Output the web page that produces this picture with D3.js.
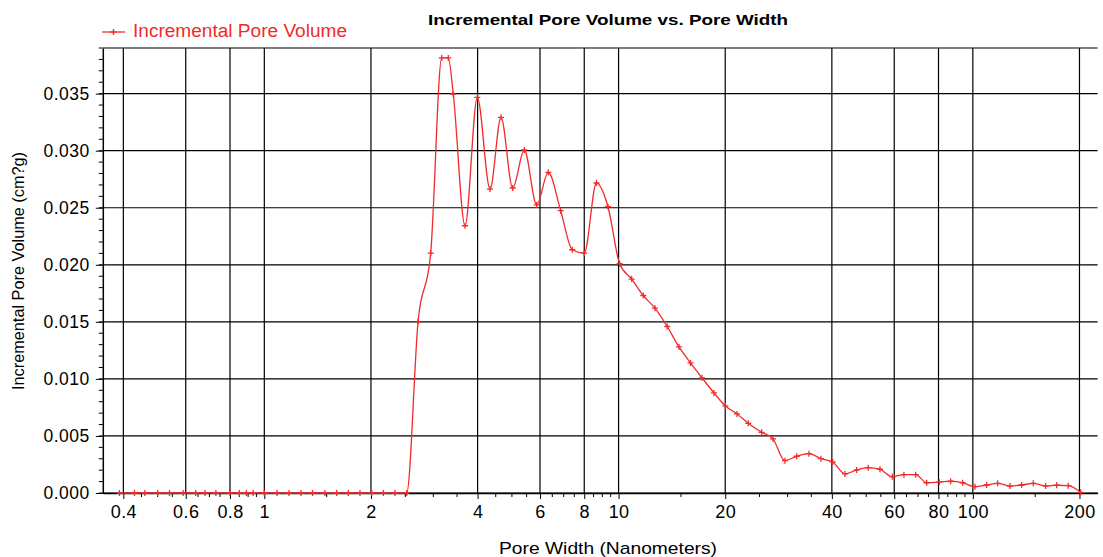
<!DOCTYPE html>
<html>
<head>
<meta charset="utf-8">
<script src="https://cdn.jsdelivr.net/npm/d3@7"></script>
<style>
body { margin:0; background:#fff; }
text { font-family: "Liberation Sans", Arial, sans-serif; }
</style>
</head>
<body>
<svg id="canvas" width="1103" height="557"></svg>
<script>
// pore width (nm) and incremental pore volume (cm3/g)
var poreWidth = [0.39,0.43,0.46,0.50,0.54,0.59,0.64,0.68,0.73,0.80,0.85,0.89,0.93,1.00,
  1.086,1.174,1.269,1.368,1.483,1.601,1.726,1.862,2.010,2.168,2.338,2.523,
  2.716,2.949,3.168,3.306,3.415,3.686,3.993,4.336,4.658,5.025,5.419,5.873,6.333,6.864,
  7.402,8.002,8.663,9.335,10.07,10.89,11.74,12.67,13.72,14.81,15.96,17.20,18.59,20.03,
  21.59,23.23,25.34,27.28,29.49,31.82,34.46,37.26,40.22,43.55,46.99,50.67,54.68,59.24,
  63.90,68.97,74.06,80.40,86.57,93.58,101.4,109.4,117.5,127.3,137.3,148.1,160.5,172.4,
  185.9,201.5]
var poreVolume = [0,0,0,0,0,0,0,0,0,0,0,0,0,0,
  0,0,0,0,0,0,0,0,0,0,0,0,
  0.0150,0.02103,0.03813,0.03813,0.03497,0.02342,0.03468,0.02664,0.03292,0.02673,0.03006,0.02526,0.0281,0.02474,
  0.02132,0.02103,0.02717,0.02509,0.02009,0.01875,0.01731,0.0162,0.01459,0.0128,0.0114,0.01009,0.00877,0.00763,
  0.00693,0.00611,0.00532,0.00474,0.00283,0.00322,0.00345,0.00301,0.00272,0.00167,0.00202,0.00222,0.00208,0.00143,
  0.00161,0.00161,0.00090,0.00096,0.00103,0.00090,0.00055,0.00070,0.00085,0.00061,0.00070,0.00085,0.00061,0.00068,
  0.00064,0.00006]

var xMajorTicks = [0.4,0.6,0.8,1,2,4,6,8,10,20,40,60,80,100,200]
var xMinorTicks = [0.45,0.5,0.55,0.65,0.7,0.75,0.85,0.9,0.95,1.5,2.5,3,3.5,4.5,5,5.5,6.5,7,7.5,8.5,9,9.5,
  15,25,30,35,45,50,55,65,70,75,85,90,95,150]
var yMajorTicks = [0,0.005,0.010,0.015,0.020,0.025,0.030,0.035]
var yMinorTicks = d3.range(0, 0.0395, 0.001)

var canvas = d3.select("#canvas")
var red = "#f22a2a"

var plotLeft = 102.8, plotRight = 1097.6, plotTop = 48, plotBottom = 493

var x = d3.scaleLog().domain([0.35, 225]).range([plotLeft, plotRight])
var y = d3.scaleLinear().domain([0, 0.039]).range([plotBottom, plotTop])

// grid
canvas.append("g").selectAll("line").data(xMajorTicks).enter().append("line")
    .attr("x1", function(d){ return x(d) }).attr("x2", function(d){ return x(d) })
    .attr("y1", plotTop).attr("y2", plotBottom)
    .style("stroke", "#000").style("stroke-width", 1.2)
canvas.append("g").selectAll("line").data(yMajorTicks).enter().append("line")
    .attr("x1", plotLeft).attr("x2", plotRight)
    .attr("y1", function(d){ return y(d) }).attr("y2", function(d){ return y(d) })
    .style("stroke", "#000").style("stroke-width", 1.2)
// top frame
canvas.append("line").attr("x1", plotLeft).attr("x2", plotRight).attr("y1", plotTop).attr("y2", plotTop)
    .style("stroke", "#000").style("stroke-width", 1.2)

// x axis
var xAxis = d3.axisBottom(x).tickValues(xMajorTicks).tickSize(6).tickSizeOuter(0)
    .tickFormat(function(d){ return d3.format("~g")(d) })
var gx = canvas.append("g").attr("transform", "translate(0," + plotBottom + ")").call(xAxis)
gx.selectAll("text").style("font-size", "18px").style("letter-spacing", "0.4px")
    .attr("y", 25).attr("dy", 0).style("fill", "#000")
gx.append("g").selectAll("line").data(xMinorTicks).enter().append("line")
    .attr("x1", function(d){ return x(d) }).attr("x2", function(d){ return x(d) })
    .attr("y1", 0).attr("y2", 4).style("stroke", "#000")
gx.select(".domain").style("stroke-width", 1.5)

// y axis
var yAxis = d3.axisLeft(y).tickValues(yMajorTicks).tickSize(7).tickPadding(6).tickSizeOuter(0)
    .tickFormat(d3.format(".3f"))
var gy = canvas.append("g").attr("transform", "translate(" + plotLeft + ",0)").call(yAxis)
gy.selectAll("text").style("font-size", "17.5px").style("letter-spacing", "0.5px").style("fill", "#000")
gy.append("g").selectAll("line").data(yMinorTicks).enter().append("line")
    .attr("x1", 0).attr("x2", -4)
    .attr("y1", function(d){ return y(d) }).attr("y2", function(d){ return y(d) })
    .style("stroke", "#000")
gy.select(".domain").style("stroke-width", 1.5)

// series line
var points = poreWidth.map(function(d, i){ return [d, poreVolume[i]] })
var line = d3.line().x(function(d){ return x(d[0]) }).y(function(d){ return y(d[1]) })
    .curve(d3.curveMonotoneX)
canvas.append("path").attr("d", line(points))
    .style("fill", "none").style("stroke", red).style("stroke-width", 1.3)

// plus markers
var plus = "M-3,0h6M0,-3v6"
canvas.append("g").selectAll("path").data(points).enter().append("path")
    .attr("transform", function(d){ return "translate(" + x(d[0]) + "," + y(d[1]) + ")" })
    .attr("d", plus).style("stroke", red).style("stroke-width", 1.3)

// legend
canvas.append("line").attr("x1", 102).attr("x2", 125).attr("y1", 32).attr("y2", 32)
    .style("stroke", red).style("stroke-width", 1.3)
canvas.append("path").attr("transform", "translate(113.5,32)").attr("d", plus)
    .style("stroke", red).style("stroke-width", 1.3)
canvas.append("text").attr("x", 133).attr("y", 37).text("Incremental Pore Volume")
    .attr("textLength", 214).attr("lengthAdjust", "spacingAndGlyphs")
    .style("font-size", "18px").style("fill", red)

// title and axis labels
canvas.append("text").attr("x", 608).attr("y", 25).attr("text-anchor", "middle")
    .text("Incremental Pore Volume vs. Pore Width")
    .attr("textLength", 360).attr("lengthAdjust", "spacingAndGlyphs")
    .style("font-size", "15px").style("font-weight", "bold")
canvas.append("text").attr("x", 608).attr("y", 554).attr("text-anchor", "middle")
    .text("Pore Width (Nanometers)")
    .attr("textLength", 218).attr("lengthAdjust", "spacingAndGlyphs")
    .style("font-size", "17px")
canvas.append("text").attr("transform", "translate(24,271) rotate(-90)").attr("text-anchor", "middle")
    .text("Incremental Pore Volume (cm?g)")
    .attr("textLength", 238).attr("lengthAdjust", "spacingAndGlyphs")
    .style("font-size", "16px")
</script>
</body>
</html>
